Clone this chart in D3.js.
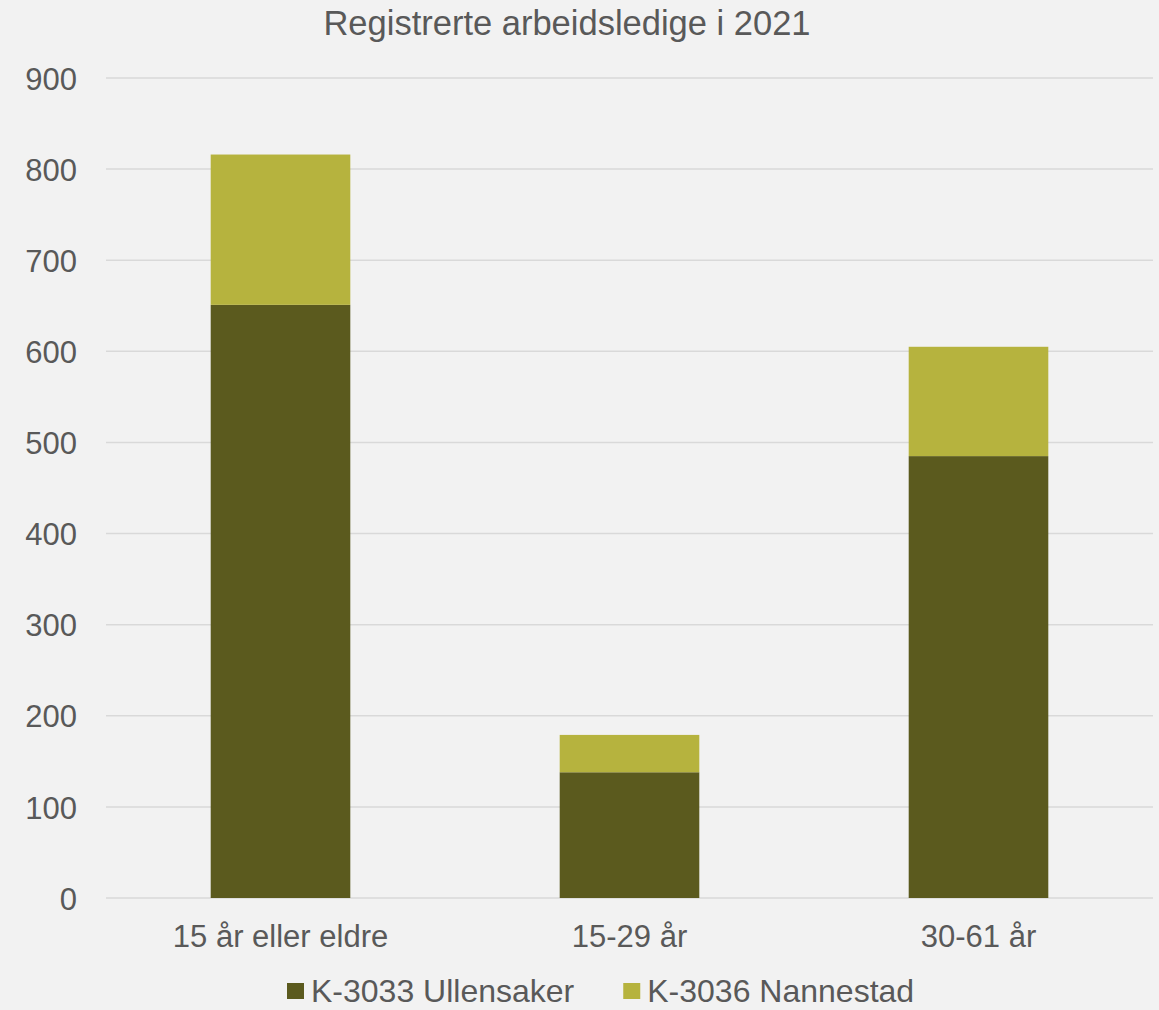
<!DOCTYPE html>
<html>
<head>
<meta charset="utf-8">
<script src="https://cdn.jsdelivr.net/npm/d3@7"></script>
<style>
  body { margin: 0; background: #f2f2f2; }
  svg { display: block; font-family: "Liberation Sans", Arial, sans-serif; }
</style>
</head>
<body>
<svg id="chart"></svg>
<script>
// data
var categories = ["15 år eller eldre", "15-29 år", "30-61 år"]
var seriesNames = ["K-3033 Ullensaker", "K-3036 Nannestad"]
var ullensaker = [651, 138, 485]
var nannestad = [165, 41, 120]
var yTicks = [0, 100, 200, 300, 400, 500, 600, 700, 800, 900]
var titleText = "Registrerte arbeidsledige i 2021"

var screen = {width: 1159, height: 1010}
var margins = {top: 78, right: 6, bottom: 112, left: 106}
var colors = ["#5b5a1e", "#b6b33e"]
var textColor = "#595959"

var svg = d3.select("#chart")
  .attr("width", screen.width)
  .attr("height", screen.height)

svg.append("rect")
  .attr("width", screen.width)
  .attr("height", screen.height)
  .attr("fill", "#f2f2f2")

var plotW = screen.width - margins.left - margins.right
var plotH = screen.height - margins.top - margins.bottom

var x = d3.scaleBand()
  .domain(categories)
  .range([margins.left, margins.left + plotW])
  .paddingInner(0.6)
  .paddingOuter(0.3)

var y = d3.scaleLinear()
  .domain([0, 900])
  .range([margins.top + plotH, margins.top])

// gridlines
svg.append("g").selectAll("line")
  .data(yTicks)
  .enter().append("line")
  .attr("x1", margins.left)
  .attr("x2", margins.left + plotW)
  .attr("y1", function(d){ return y(d) })
  .attr("y2", function(d){ return y(d) })
  .attr("stroke", "#d9d9d9")
  .attr("stroke-width", 1.5)

// y axis labels
var yAxis = svg.append("g")
  .attr("transform", "translate(" + (margins.left - 29) + ",0)")
  .call(d3.axisLeft(y).tickValues(yTicks).tickSize(0).tickPadding(0))
yAxis.select(".domain").remove()
yAxis.selectAll("text")
  .attr("fill", textColor)
  .style("font-size", "31px")
  .style("font-family", "Liberation Sans, Arial, sans-serif")
  .attr("dy", "0.36em")

// x axis labels
var xAxis = svg.append("g")
  .attr("transform", "translate(0," + y(0) + ")")
  .call(d3.axisBottom(x).tickSize(0).tickPadding(0))
xAxis.select(".domain").remove()
xAxis.selectAll("text")
  .attr("fill", textColor)
  .style("font-size", "31px")
  .style("font-family", "Liberation Sans, Arial, sans-serif")
  .attr("dy", null)
  .attr("y", 49)

// stacked bars
var table = categories.map(function(c, i){
  return {cat: c, ullensaker: ullensaker[i], nannestad: nannestad[i]}
})
var stack = d3.stack().keys(["ullensaker", "nannestad"])
var layers = stack(table)

svg.append("g").selectAll("g")
  .data(layers)
  .enter().append("g")
  .attr("fill", function(d, i){ return colors[i] })
  .selectAll("rect")
  .data(function(d){ return d })
  .enter().append("rect")
  .attr("x", function(d){ return x(d.data.cat) })
  .attr("width", x.bandwidth())
  .attr("y", function(d){ return y(d[1]) })
  .attr("height", function(d){ return y(d[0]) - y(d[1]) })

// title
svg.append("text")
  .attr("x", 567)
  .attr("y", 35)
  .attr("text-anchor", "middle")
  .attr("fill", textColor)
  .style("font-size", "34.5px")
  .text(titleText)

// legend (pulled up a little so nothing is clipped at the bottom edge)
var legend = svg.append("g").attr("transform", "translate(287,1002)")
var lx = 0
seriesNames.forEach(function(name, i){
  var g = legend.append("g").attr("transform", "translate(" + lx + ",0)")
  g.append("rect")
    .attr("x", 0)
    .attr("y", -19)
    .attr("width", 17)
    .attr("height", 16)
    .attr("fill", colors[i])
  var t = g.append("text")
    .attr("x", 24)
    .attr("fill", textColor)
    .style("font-size", "32px")
    .text(name)
  lx += 24 + t.node().getComputedTextLength() + 49
})
</script>
</body>
</html>
